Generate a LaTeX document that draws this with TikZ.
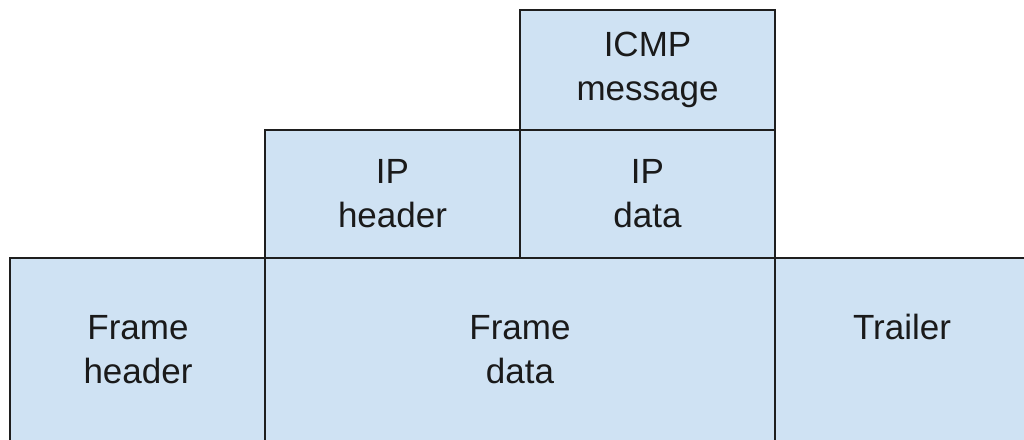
\documentclass[tikz,border=0pt]{standalone}
\usepackage{fontspec}
\setmainfont{Liberation Sans}
\definecolor{boxfill}{HTML}{CFE2F3}
\definecolor{boxline}{HTML}{1E1E1E}
\definecolor{txt}{HTML}{1A1A1A}
\begin{document}
\begin{tikzpicture}[x=1pt,y=1pt,
  box/.style={draw=boxline, fill=boxfill, line width=1.6pt, inner sep=0pt},
  lbl/.style={anchor=north, inner sep=0pt, align=center, text=txt,
    font=\fontsize{35pt}{44pt}\selectfont}]
\useasboundingbox (0,0) rectangle (1024,-439);
\clip (0,0) rectangle (1024,-439);
\fill[white] (0,0) rectangle (1024,-439);
% boxes
\draw[box] (520,-10) rectangle (775,-130) coordinate (icmpbox);
\draw[box] (265,-130) rectangle (520,-258) coordinate (iphbox);
\draw[box] (520,-130) rectangle (775,-258) coordinate (ipdbox);
\draw[box] (10,-258) rectangle (265,-460) coordinate (fhbox);
\draw[box] (265,-258) rectangle (775,-460) coordinate (fdbox);
\draw[box] (775,-258) rectangle (1040,-460) coordinate (trbox);
% labels
\node[lbl] (icmp) at (647.5,-32) {ICMP\\message};
\node[lbl] (iph) at (392.5,-159) {IP\\header};
\node[lbl] (ipd) at (647.5,-159) {IP\\data};
\node[lbl] (fh) at (138,-315) {Frame\\header};
\node[lbl] (fd) at (520,-315) {Frame\\data};
\node[lbl] (tr) at (902,-314) {Trailer};
\end{tikzpicture}
\end{document}
